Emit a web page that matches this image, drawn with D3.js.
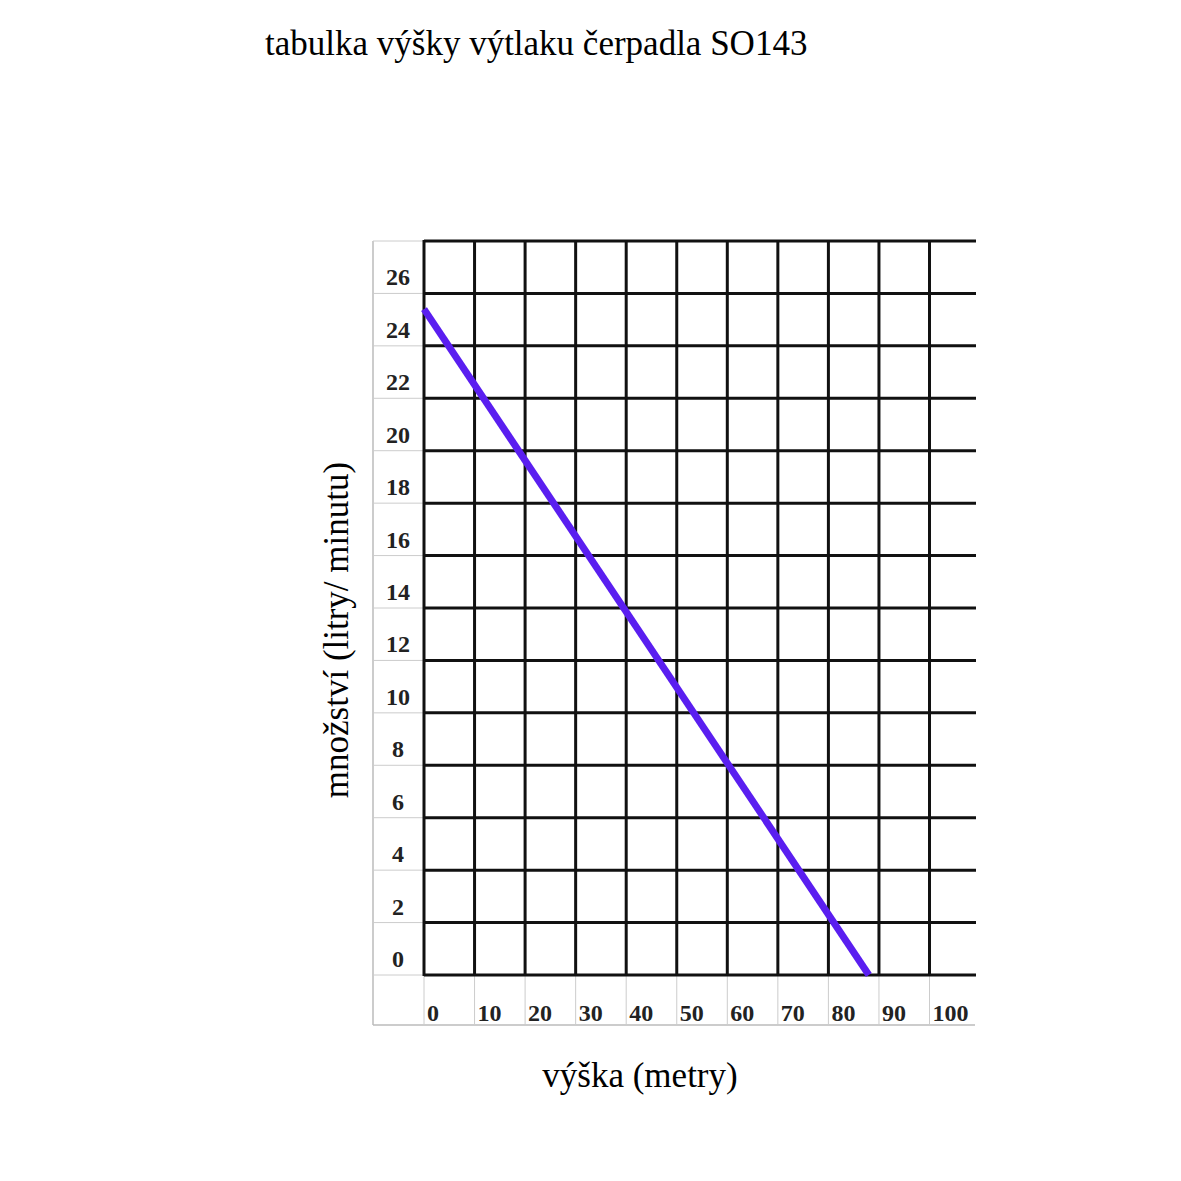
<!DOCTYPE html>
<html><head><meta charset="utf-8">
<script src="https://cdn.jsdelivr.net/npm/d3@7"></script>
<style>body{margin:0;background:#fff}</style>
</head><body>
<script>
var xTicks = [0, 10, 20, 30, 40, 50, 60, 70, 80, 90, 100],
    yTicks = [0, 2, 4, 6, 8, 10, 12, 14, 16, 18, 20, 22, 24, 26],
    yGrid = [0, 2, 4, 6, 8, 10, 12, 14, 16, 18, 20, 22, 24, 26, 28],
    curve = [{h: 0, q: 25.4}, {h: 88, q: 0}];

var svg = d3.select("body").append("svg").attr("width", 1181).attr("height", 1181);

var x = d3.scaleLinear().domain([0, 109]).range([424, 975]),
    y = d3.scaleLinear().domain([0, 28]).range([975, 241]);

// label column / row frame
svg.append("line").attr("x1", 373).attr("x2", 373).attr("y1", 241).attr("y2", 1025)
    .attr("stroke", "#bbb").attr("stroke-width", 1.5);
svg.append("line").attr("x1", 373).attr("x2", 975).attr("y1", 1025).attr("y2", 1025)
    .attr("stroke", "#bbb").attr("stroke-width", 1.5);
svg.selectAll(".lg").data(yGrid).enter().append("line")
    .attr("x1", 373).attr("x2", 424).attr("y1", d => y(d)).attr("y2", d => y(d))
    .attr("stroke", "#ccc").attr("stroke-width", 1);
svg.selectAll(".bg").data(xTicks).enter().append("line")
    .attr("x1", d => x(d)).attr("x2", d => x(d)).attr("y1", 975).attr("y2", 1025)
    .attr("stroke", "#ccc").attr("stroke-width", 1);

// grid
svg.selectAll(".hg").data(yGrid).enter().append("line")
    .attr("x1", 424).attr("x2", 976).attr("y1", d => y(d)).attr("y2", d => y(d))
    .attr("stroke", "#111").attr("stroke-width", 3);
svg.selectAll(".vg").data(xTicks).enter().append("line")
    .attr("x1", d => x(d)).attr("x2", d => x(d)).attr("y1", 240).attr("y2", 976)
    .attr("stroke", "#111").attr("stroke-width", 3);

// tick labels
svg.selectAll(".yl").data(yTicks).enter().append("text")
    .attr("x", 398).attr("y", d => y(d) - 8).attr("text-anchor", "middle")
    .style("font", "bold 24px 'Liberation Serif', serif").attr("fill", "#222")
    .text(d => d);
svg.selectAll(".xl").data(xTicks).enter().append("text")
    .attr("x", d => x(d) + 3).attr("y", 1021)
    .style("font", "bold 24px 'Liberation Serif', serif").attr("fill", "#222")
    .text(d => d);

// curve
svg.append("path").datum(curve)
    .attr("fill", "none").attr("stroke", "#5a1ef0").attr("stroke-width", 7)
    .attr("d", d3.line().x(d => x(d.h)).y(d => y(d.q)));

// titles
svg.append("text").attr("x", 265).attr("y", 55)
    .style("font", "35px 'Liberation Serif', serif").text("tabulka výšky výtlaku čerpadla SO143");
svg.append("text").attr("transform", "translate(348,630) rotate(-90)").attr("text-anchor", "middle")
    .style("font", "35px 'Liberation Serif', serif").text("množství (litry/ minutu)");
svg.append("text").attr("x", 640).attr("y", 1087).attr("text-anchor", "middle")
    .style("font", "35px 'Liberation Serif', serif").text("výška (metry)");
</script>
</body></html>
